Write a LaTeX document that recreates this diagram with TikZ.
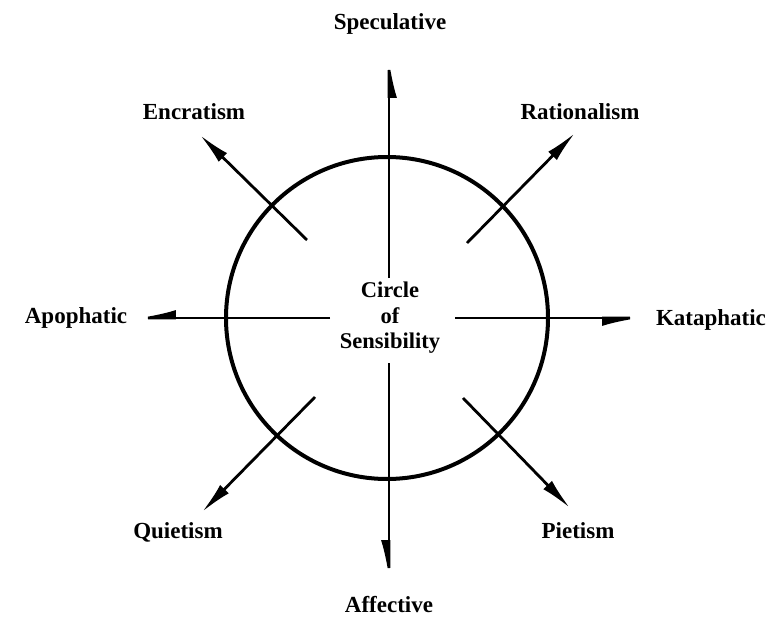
\documentclass[tikz,border=0pt]{standalone}
\usepackage{fontspec}
\setmainfont{Liberation Serif}
\usetikzlibrary{arrows.meta}
\begin{document}
\begin{tikzpicture}[x=1pt,y=-1pt,
  lbl/.style={font=\fontsize{23}{26}\selectfont\bfseries, inner sep=0pt},
  ax/.style={line width=2.8pt, -{Latex[length=38pt,width=16pt,harpoon,swap]}},
  dg/.style={line width=2.8pt, -{Latex[length=32pt,width=12pt]}},
  ring/.style={line width=4pt}]
\useasboundingbox (0,0) rectangle (772,618);
\node[lbl, align=center, font=\fontsize{22.5}{25.5}\selectfont\bfseries] (c) at (390,318) {Circle\\of\\Sensibility};
\draw[ring] (387,318) circle (161);
% labels
\node[lbl] (spec) at (390,24) {Speculative};
\node[lbl] (aff) at (389,605) {Affective};
\node[lbl] (apo) at (76,318) {Apophatic};
\node[lbl] (kat) at (711,320) {Kataphatic};
\node[lbl] (enc) at (194,112) {Encratism};
\node[lbl] (rat) at (580,112) {Rationalism};
\node[lbl] (qui) at (178,532) {Quietism};
\node[lbl] (pie) at (578,531) {Pietism};
% connector ends
\coordinate (tS0) at (389,278); \coordinate (tS) at (389,50);
\coordinate (tA0) at (389,363); \coordinate (tA) at (389,588);
\coordinate (tP0) at (330,318); \coordinate (tP) at (128,318);
\coordinate (tK0) at (455,318); \coordinate (tK) at (650,318);
\coordinate (tE0) at (307,240); \coordinate (tE) at (200,135);
\coordinate (tR0) at (467,243); \coordinate (tR) at (575,133);
\coordinate (tQ0) at (315,397); \coordinate (tQ) at (202,512);
\coordinate (tI0) at (463,398); \coordinate (tI) at (570,508);
\draw[ax] (tS0) -- (tS);
\draw[ax] (tA0) -- (tA);
\draw[ax] (tP0) -- (tP);
\draw[ax] (tK0) -- (tK);
\draw[dg] (tE0) -- (tE);
\draw[dg] (tR0) -- (tR);
\draw[dg] (tQ0) -- (tQ);
\draw[dg] (tI0) -- (tI);
\end{tikzpicture}
\end{document}
